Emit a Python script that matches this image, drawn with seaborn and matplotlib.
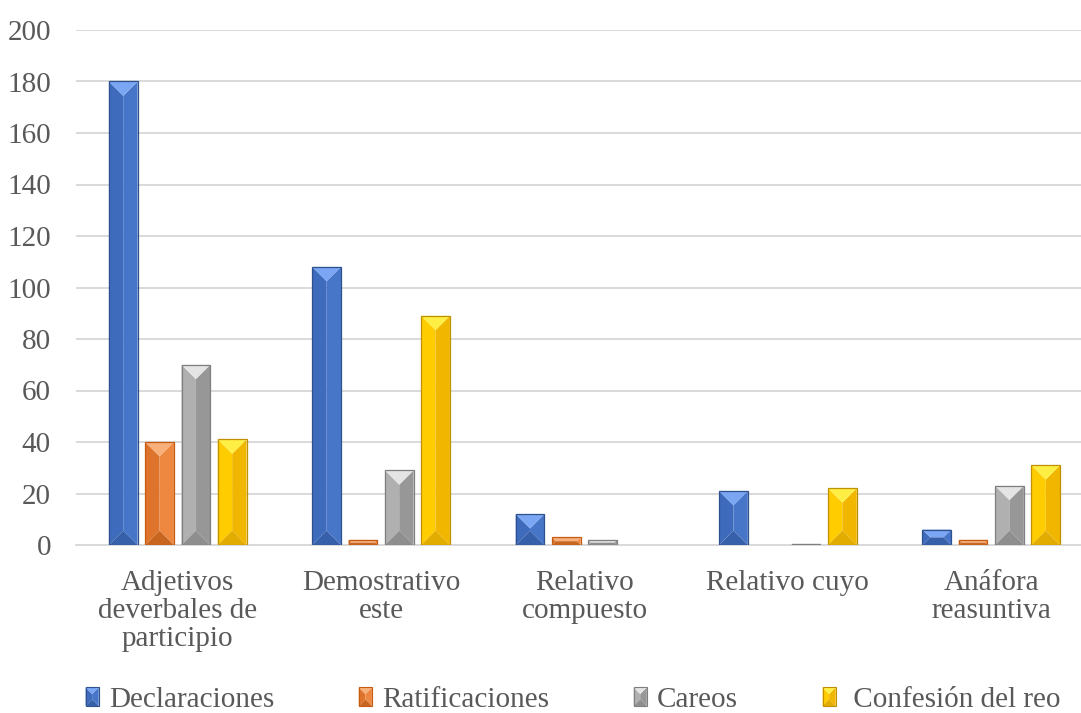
import matplotlib
matplotlib.use("Agg")
import matplotlib.pyplot as plt
from matplotlib.patches import Polygon, Rectangle
import pandas as pd
import seaborn as sns

# --- data -------------------------------------------------------------
categorias = [
    "Adjetivos\ndeverbales de\nparticipio",
    "Demostrativo\neste",
    "Relativo\ncompuesto",
    "Relativo cuyo",
    "Anáfora\nreasuntiva",
]
series = ["Declaraciones", "Ratificaciones", "Careos", "Confesión del reo"]
declaraciones = [180, 108, 12, 21, 6]
ratificaciones = [40, 2, 3, 0, 2]
careos = [70, 29, 2, 0.5, 23]
confesion = [41, 89, 0, 22, 31]
yticks = [0, 20, 40, 60, 80, 100, 120, 140, 160, 180, 200]

# bevel shading per series: base, top, left, right, bottom, edge
shades = {
    "Declaraciones": dict(base="#4472C4", top="#7BA6F4", left="#3F6BBD",
                          right="#4775C8", bottom="#3760AA", edge="#2F528F"),
    "Ratificaciones": dict(base="#ED7D31", top="#F8B07A", left="#DE742C",
                           right="#EE8841", bottom="#C8651F", edge="#C55A11"),
    "Careos": dict(base="#A5A5A5", top="#E4E4E4", left="#B0B0B0",
                   right="#979797", bottom="#8E8E8E", edge="#7F7F7F"),
    "Confesión del reo": dict(base="#FFC000", top="#FFEE44", left="#FFCC00",
                              right="#F1B700", bottom="#E3AC00", edge="#BF9000"),
}

df = pd.DataFrame({
    "categoria": categorias * 4,
    "serie": [s for s in series for _ in categorias],
    "valor": declaraciones + ratificaciones + careos + confesion,
})

text_color = "#595959"
grid_color = "#D9D9D9"
font_size = 21

sns.set_theme(style="white")
plt.rcParams["font.family"] = ["Liberation Serif", "DejaVu Serif"]


def bevel_faces(x0, y0, w, h, sx, sy):
    """Four faces of an angle-bevelled rectangle (sx, sy: pixels per unit)."""
    x1, y1 = x0 + w, y0 + h
    cx = x0 + w / 2
    w_px, h_px = w * sx, h * sy
    if h_px >= w_px:
        dy = (w_px / 2) / sy
        top = [(x0, y1), (x1, y1), (cx, y1 - dy)]
        left = [(x0, y1), (cx, y1 - dy), (cx, y0 + dy), (x0, y0)]
        right = [(x1, y1), (x1, y0), (cx, y0 + dy), (cx, y1 - dy)]
        bottom = [(x0, y0), (x1, y0), (cx, y0 + dy)]
    else:
        dx = (h_px / 2) / sx
        ym = y0 + h / 2
        top = [(x0, y1), (x1, y1), (x1 - dx, ym), (x0 + dx, ym)]
        bottom = [(x0, y0), (x1, y0), (x1 - dx, ym), (x0 + dx, ym)]
        left = [(x0, y1), (x0 + dx, ym), (x0, y0)]
        right = [(x1, y1), (x1 - dx, ym), (x1, y0)]
    return {"left": left, "right": right, "bottom": bottom, "top": top}


W, H = 1081, 713
fig = plt.figure(figsize=(W / 100, H / 100), dpi=100)
# plot area runs slightly past the right edge of the canvas
ax = fig.add_axes([76 / W, 1 - 545 / H, 1017 / W, (545 - 30) / H])

sns.barplot(
    data=df, x="categoria", y="valor", hue="serie",
    order=categorias, hue_order=series,
    palette=[shades[s]["base"] for s in series],
    width=0.714, gap=0.21, legend=False, ax=ax, zorder=3,
)

ax.set_xlim(-0.5, len(categorias) - 0.5)
ax.set_ylim(0, 200)
ax.set_yticks(yticks)

# pixels per data unit, used to keep the bevel at 45 degrees
sx = ax.bbox.width / (ax.get_xlim()[1] - ax.get_xlim()[0])
sy = ax.bbox.height / (ax.get_ylim()[1] - ax.get_ylim()[0])

for serie, container in zip(series, ax.containers):
    sh = shades[serie]
    for patch in container.patches:
        h = patch.get_height()
        if h <= 0:
            patch.set_visible(False)
            continue
        faces = bevel_faces(patch.get_x(), patch.get_y(), patch.get_width(), h, sx, sy)
        for name, pts in faces.items():
            ax.add_patch(Polygon(pts, closed=True, facecolor=sh[name],
                                 edgecolor="none", zorder=3.5))
        patch.set_facecolor("none")
        patch.set_edgecolor(sh["edge"])
        patch.set_linewidth(0.9)
        patch.set_zorder(4)

# axes styling
ax.yaxis.grid(True, color=grid_color, linewidth=1.4)
ax.xaxis.grid(False)
ax.set_axisbelow(True)
for side in ("left", "right", "top"):
    ax.spines[side].set_visible(False)
ax.spines["bottom"].set_color(grid_color)
ax.spines["bottom"].set_linewidth(1.4)
ax.set_xlabel("")
ax.set_ylabel("")
ax.tick_params(axis="y", length=0, pad=18, labelsize=font_size, labelcolor=text_color)
ax.tick_params(axis="x", length=0, pad=18, labelsize=font_size, labelcolor=text_color)
for lbl in ax.get_xticklabels():
    lbl.set_linespacing(1.1)


class BevelKey:
    """Legend key drawn as a small bevelled square."""

    def legend_artist(self, legend, orig_handle, fontsize, handlebox):
        sh = shades[orig_handle.get_label()]
        x0, y0 = -handlebox.xdescent, -handlebox.ydescent
        w, h = handlebox.width, handlebox.height
        faces = bevel_faces(x0, y0, w, h, 1.0, 1.0)
        for name, pts in faces.items():
            handlebox.add_artist(Polygon(pts, closed=True, facecolor=sh[name],
                                         edgecolor="none",
                                         transform=handlebox.get_transform()))
        frame = Rectangle((x0, y0), w, h, facecolor="none", edgecolor=sh["edge"],
                          linewidth=0.8, transform=handlebox.get_transform())
        handlebox.add_artist(frame)
        return frame


handles = [Rectangle((0, 0), 1, 1, label=s) for s in series]
labels = ["Declaraciones", "Ratificaciones", "Careos", " Confesión del reo"]
fig.legend(
    handles, labels, handler_map={Rectangle: BevelKey()},
    loc="center", bbox_to_anchor=(573 / W, 1 - 700 / H), ncol=4,
    frameon=False, fontsize=font_size, labelcolor=text_color,
    handlelength=0.45, handleheight=0.6, handletextpad=0.35, columnspacing=2.9,
)

fig.savefig("out.png", dpi=100, facecolor="white")
